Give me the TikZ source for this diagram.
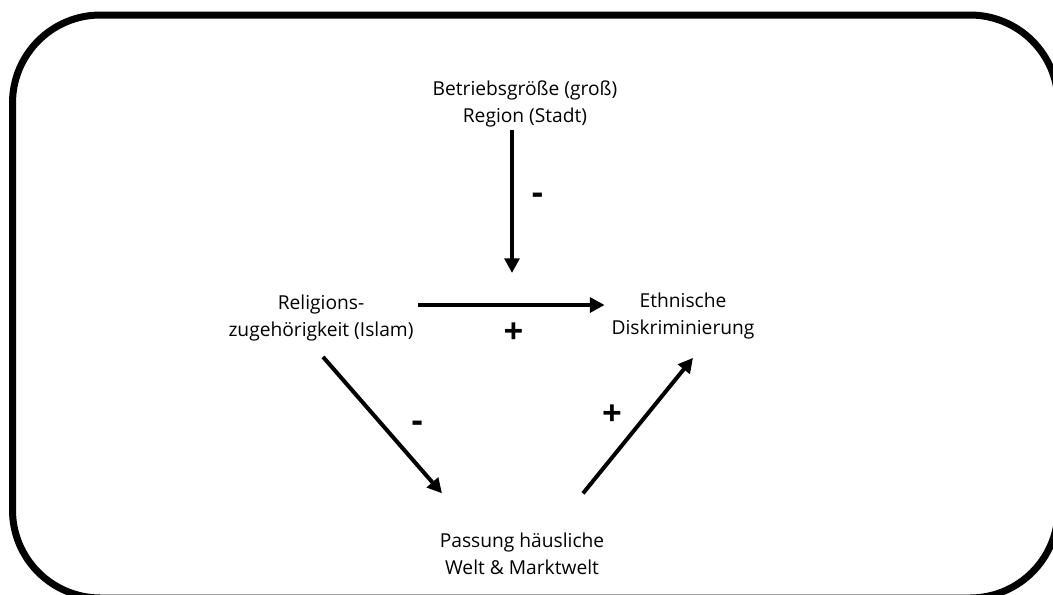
\documentclass[tikz,border=0pt]{standalone}
\usepackage{fontspec}
\setmainfont{Open Sans}
\usetikzlibrary{arrows.meta, calc}

\begin{document}
\begin{tikzpicture}[x=0.75pt, y=-0.75pt,
    txt/.style={align=center, inner sep=2pt, font=\fontsize{14.4}{20}\selectfont},
    arr/.style={-{Triangle[length=11pt, width=11pt]}, line width=3pt},
    sign/.style={inner sep=0pt, font=\fontsize{26}{26}\selectfont\bfseries}]
    \useasboundingbox (0,0) rectangle (1053,594);
    % Rahmen
    \draw [line width=5.25pt, rounded corners=66pt] (12.5,15) rectangle (1058,598);

    % Variablen
    \node [txt] (groesse) at (525,104) {Betriebsgröße (groß)\\Region (Stadt)};
    \node [txt] (religion) at (321,318) {Religions-\\zugehörigkeit (Islam)};
    \node [txt] (ethnie) at (683,316) {Ethnische\\Diskriminierung};
    \node [txt] (passung) at (522,554) {Passung häusliche\\Welt \& Marktwelt};

    % Moderation
    \coordinate (mod) at (512,273);
    \draw [arr] (mod |- groesse.south) -- node [sign, xshift=19pt, yshift=2pt] {-} (mod);

    % Direkter Effekt
    \coordinate (h1) at ($(religion.east)+(2,-13)$);
    \draw [arr, shorten >=3pt] (h1) -- node [sign, xshift=0pt, yshift=-21pt] {+} (h1 -| ethnie.west);

    % Mediation
    \draw [arr] ($(religion.south)+(2,13)$) -- node [sign, xshift=26pt, yshift=-1pt] {-} ($(passung.north)+(-80,-37)$);
    \draw [arr] ($(passung.north)+(61,-37)$) -- node [sign, xshift=-19.5pt, yshift=8pt] {+} ($(ethnie.south)+(10,16)$);
\end{tikzpicture}
\end{document}
